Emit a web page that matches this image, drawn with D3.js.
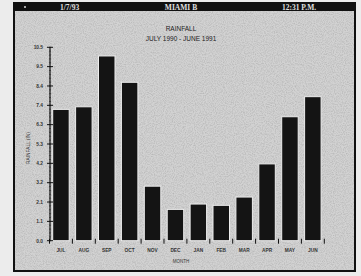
<!DOCTYPE html>
<html>
<head>
<meta charset="utf-8">
<script src="https://cdn.jsdelivr.net/npm/d3@7"></script>
<style>
  html, body { margin: 0; padding: 0; background: #ececec; }
  svg { display: block; font-family: "Liberation Sans", Arial, sans-serif; }
</style>
</head>
<body>
<svg id="chart" width="361" height="276"></svg>
<script>
// monthly rainfall, Miami, July 1990 - June 1991 (inches)
const months = ["JUL", "AUG", "SEP", "OCT", "NOV", "DEC", "JAN", "FEB", "MAR", "APR", "MAY", "JUN"];
const rainfall = [7.13, 7.27, 10.03, 8.6, 2.96, 1.7, 1.99, 1.92, 2.37, 4.17, 6.73, 7.82];
const yTicks = [0, 1.05, 2.1, 3.15, 4.2, 5.25, 6.3, 7.35, 8.4, 9.45, 10.5];
const yTickLabels = ["0.0", "1.1", "2.1", "3.2", "4.2", "5.3", "6.3", "7.4", "8.4", "9.5", "10.5"];
const header = { left: "1/7/93", middle: "MIAMI B", right: "12:31 P.M." };

const svg = d3.select("#chart");

// noisy scan texture
const defs = svg.append("defs");
const f = defs.append("filter").attr("id", "grain").attr("x", 0).attr("y", 0).attr("width", "100%").attr("height", "100%");
f.append("feTurbulence").attr("type", "fractalNoise").attr("baseFrequency", 0.9).attr("numOctaves", 2).attr("seed", 3);
f.append("feColorMatrix").attr("type", "matrix")
  .attr("values", "0 0 0 0 0  0 0 0 0 0  0 0 0 0 0  0 0 0 -1.6 1.0");

// panel
svg.append("rect").attr("x", 14).attr("y", 3).attr("width", 341).attr("height", 268)
  .attr("fill", "#d2d2d2").attr("stroke", "#111").attr("stroke-width", 2);
svg.append("rect").attr("x", 15).attr("y", 11).attr("width", 339).attr("height", 259)
  .attr("filter", "url(#grain)").attr("opacity", 0.15);

// header bar
svg.append("rect").attr("x", 14).attr("y", 3).attr("width", 341).attr("height", 8).attr("fill", "#111");
svg.append("circle").attr("cx", 25).attr("cy", 7).attr("r", 1).attr("fill", "#ddd");
const hdr = svg.append("g").attr("fill", "#e0e0e0").attr("font-size", 7.5).attr("font-weight", "bold")
  .attr("font-family", "'Liberation Serif', serif");
hdr.append("text").attr("x", 60).attr("y", 9.7).text(header.left);
hdr.append("text").attr("x", 181).attr("y", 9.7).attr("text-anchor", "middle").text(header.middle);
hdr.append("text").attr("x", 282).attr("y", 9.7).text(header.right);

// titles
svg.append("text").attr("x", 181).attr("y", 31).attr("text-anchor", "middle")
  .attr("font-size", 6.5).attr("fill", "#222").text("RAINFALL");
svg.append("text").attr("x", 181).attr("y", 41).attr("text-anchor", "middle")
  .attr("font-size", 6.5).attr("fill", "#222").text("JULY 1990 - JUNE 1991");

// scales
const x = d3.scaleBand().domain(months).range([50, 323.8]).paddingInner(0.28).paddingOuter(0.118);
const y = d3.scaleLinear().domain([0, 10.5]).range([240.7, 47.3]);

// bars with light halo
svg.append("g").selectAll("rect").data(months).join("rect")
  .attr("x", d => x(d))
  .attr("y", (d, i) => y(rainfall[i]))
  .attr("width", x.bandwidth())
  .attr("height", (d, i) => y(0) - y(rainfall[i]))
  .attr("fill", "#141414")
  .attr("stroke", "#eeeeee").attr("stroke-width", 1);

// y axis
const yAxis = svg.append("g").attr("transform", "translate(50,0)");
yAxis.append("line").attr("y1", y(10.5)).attr("y2", y(0)).attr("stroke", "#111").attr("stroke-width", 1.2);
yAxis.selectAll("line.minor").data(d3.range(0, 10.5001, 0.21)).join("line").attr("class", "minor")
  .attr("x1", -1).attr("x2", 1).attr("y1", d => y(d)).attr("y2", d => y(d))
  .attr("stroke", "#222").attr("stroke-width", 0.6);
yAxis.selectAll("line.major").data(yTicks).join("line").attr("class", "major")
  .attr("x1", -3).attr("x2", 3).attr("y1", d => y(d)).attr("y2", d => y(d))
  .attr("stroke", "#111").attr("stroke-width", 1);
yAxis.selectAll("text").data(yTicks).join("text")
  .attr("x", -7).attr("y", d => y(d) + 1.8)
  .attr("text-anchor", "end").attr("font-size", 4.8).attr("font-weight", "bold").attr("fill", "#333")
  .text((d, i) => yTickLabels[i]);
svg.append("text").attr("transform", "translate(30,148) rotate(-90)").attr("text-anchor", "middle")
  .attr("font-size", 4.8).attr("fill", "#333").text("RAINFALL (IN)");

// x axis
const step = x.step();
const bounds = months.map(m => x(m) - step * x.paddingInner() / 2).concat([x(months[11]) + x.bandwidth() + step * x.paddingInner() / 2]);
const xAxis = svg.append("g");
xAxis.selectAll("line").data(bounds).join("line")
  .attr("x1", d => d).attr("x2", d => d).attr("y1", y(0) - 2).attr("y2", y(0) + 3)
  .attr("stroke", "#111").attr("stroke-width", 1);
xAxis.selectAll("text").data(months).join("text")
  .attr("x", d => x(d) + x.bandwidth() / 2).attr("y", 252)
  .attr("text-anchor", "middle").attr("font-size", 4.8).attr("font-weight", "bold").attr("fill", "#333")
  .text(d => d);
svg.append("text").attr("x", 181).attr("y", 263).attr("text-anchor", "middle")
  .attr("font-size", 4.5).attr("fill", "#333").text("MONTH");
</script>
</body>
</html>
